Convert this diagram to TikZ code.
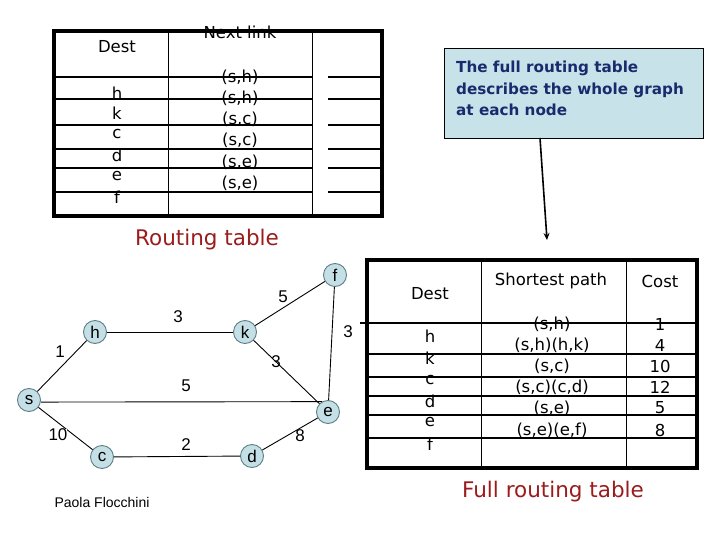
\documentclass[tikz,border=0pt]{standalone}
\usepackage{fontspec}
\setmainfont{DejaVu Sans}
\newfontfamily\arialf{Liberation Sans}
\usetikzlibrary{arrows.meta}
\definecolor{nodeblue}{HTML}{C4E0E6}
\definecolor{nodeedge}{HTML}{5E7E84}
\definecolor{boxblue}{HTML}{C7E2E8}
\definecolor{navy}{HTML}{1A2A6C}
\definecolor{darkred}{HTML}{9A1C1C}
\begin{document}
\begin{tikzpicture}[x=1pt,y=-1pt,
  gnode/.style={circle,draw=nodeedge,line width=0.9pt,fill=nodeblue,minimum size=23pt,inner sep=0pt,font=\arialf\fontsize{17}{17}\selectfont},
  edge/.style={draw=black,line width=0.9pt},
  wlab/.style={font=\arialf\fontsize{17}{17}\selectfont,inner sep=0pt},
  ttext/.style={font=\fontsize{16.5}{16.5}\selectfont,inner sep=0pt},
  outer/.style={line width=3.4pt},
  rowline/.style={line width=2.2pt},
  colline/.style={line width=1pt},
  title/.style={font=\fontsize{21.5}{21.5}\selectfont,text=darkred,inner sep=0pt}]
\useasboundingbox (0,0) rectangle (720,540);

% ---------- top table ----------
\draw[colline] (168,31) -- (168,216);
\draw[colline] (312,31) -- (312,216);
\foreach \y in {77,99,125,149,168,192}{
  \draw[rowline] (54,\y) -- (312,\y);
  \draw[rowline] (328,\y) -- (382,\y);
}
\draw[outer] (54,31) rectangle (382,216);
\node[ttext] (tdest) at (117,47) {Dest};
\node[ttext] (tnext) at (240,32) {Next link};
\foreach \t/\y [count=\i] in {h/93,k/113,c/134,d/155,e/176,f/197}
  \node[ttext] (td\i) at (117,\y) {\t};
\foreach \t/\y [count=\i] in {(s{,}h)/77,(s{,}h)/98,(s{,}c)/119,(s{,}c)/140,(s{,}e)/162,(s{,}e)/183}
  \node[ttext] (tn\i) at (240,\y) {\t};
\node[title] (rt) at (207,240) {Routing table};

% ---------- info box ----------
\node[draw=black,line width=1pt,fill=boxblue,minimum width=259pt,minimum height=90pt,anchor=north west,inner sep=0pt] (info) at (444,48) {};
\node[anchor=north west,align=left,text=navy,font=\bfseries\fontsize{15.2}{21.5}\selectfont,inner sep=0pt] (infot) at (456,61) {The full routing table\\describes the whole graph\\at each node};
\coordinate (arrowend) at (547,240);
\draw[line width=1.6pt,-{Stealth[length=7pt,width=6pt]}] (540,138) -- (arrowend);

% ---------- graph ----------
\node[gnode] (s) at (29,400) {s};
\node[gnode] (h) at (95,332) {h};
\node[gnode] (k) at (245,332) {k};
\node[gnode] (f) at (335,275) {f};
\node[gnode] (e) at (328,412) {e};
\node[gnode] (c) at (102,457) {c};
\node[gnode] (d) at (252,456) {d};
\draw[edge] (s) -- (h);
\draw[edge] (h) -- (k);
\draw[edge] (k) -- (f);
\draw[edge] (f) -- (e);
\draw[edge] (k) -- (e);
\draw[edge] (s.-10) -- (e.120);
\draw[edge] (s) -- (c);
\draw[edge] (c) -- (d);
\draw[edge] (d) -- (e);
\node[wlab] (l1) at (60,352) {1};
\node[wlab] (l2) at (178,317) {3};
\node[wlab] (l3) at (283,297) {5};
\node[wlab] (l4) at (348,332) {3};
\node[wlab] (l5) at (276,362) {3};
\node[wlab] (l6) at (186,386) {5};
\node[wlab,fill=white] (l7) at (58,435) {10};
\node[wlab] (l8) at (186,445) {2};
\node[wlab] (l9) at (300,436) {8};
\node[font=\arialf\fontsize{14}{14}\selectfont,inner sep=0pt] (author) at (102,502) {Paola Flocchini};

% ---------- full table ----------
\draw[colline] (481,260) -- (481,468);
\draw[colline] (626,260) -- (626,468);
\foreach \y in {323,354,377,396,415,438}{
  \draw[rowline] (367,\y) -- (697,\y);
}
\draw[rowline] (360,323) -- (367,323);
\draw[outer] (367,260) rectangle (697,468);
\node[ttext] (fdest) at (430,294) {Dest};
\node[ttext] (fsp) at (551,281) {Shortest path};
\node[ttext] (fcost) at (660,281) {Cost};
\foreach \t/\y [count=\i] in {h/336,k/358,c/380,d/401,e/422,f/444}
  \node[ttext] (fd\i) at (430,\y) {\t};
\foreach \t/\y [count=\i] in {(s{,}h)/324,(s{,}h)(h{,}k)/345,(s{,}c)/366,(s{,}c)(c{,}d)/387,(s{,}e)/408,(s{,}e)(e{,}f)/430}
  \node[ttext] (fp\i) at (552,\y) {\t};
\foreach \t/\y [count=\i] in {1/324,4/345,10/366,12/387,5/408,8/430}
  \node[ttext] (fc\i) at (660,\y) {\t};
\node[title] (frt) at (553,492) {Full routing table};
\end{tikzpicture}
\end{document}
